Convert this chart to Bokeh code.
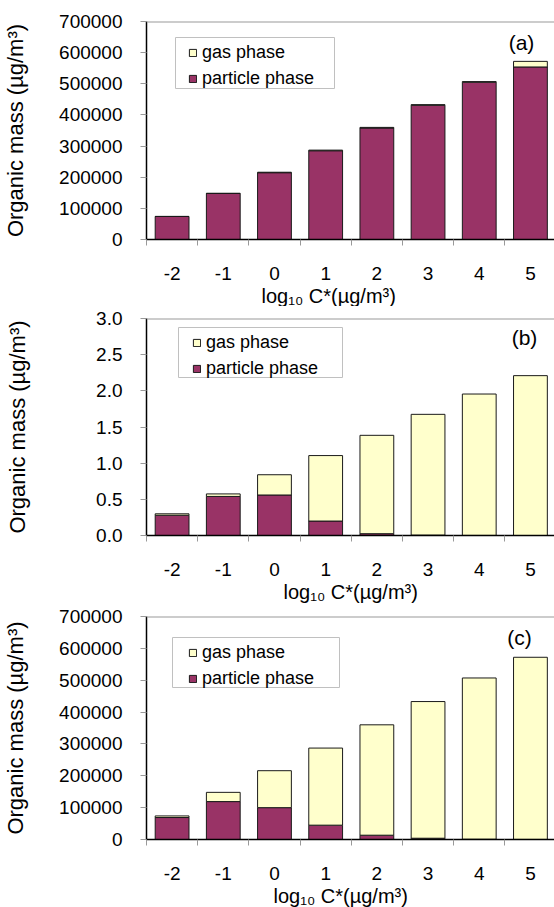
from bokeh.plotting import figure
from bokeh.models import (ColumnDataSource, FixedTicker, NumeralTickFormatter, Legend, LegendItem,
                          Span, Label, BoxAnnotation, Range1d, Title)
from bokeh.layouts import column
from bokeh.embed import file_html
from bokeh.resources import INLINE

# ---------------- data ----------------
log_cstar = [-2, -1, 0, 1, 2, 3, 4, 5]
tick_labels = ["-2", "-1", "0", "1", "2", "3", "4", "5"]

particle_a = [74000, 148000, 214500, 285000, 358000, 431000, 505000, 554000]
gas_a = [0, 0, 1500, 2000, 2000, 2000, 2000, 18000]

particle_b = [0.28, 0.54, 0.56, 0.20, 0.025, 0.005, 0.001, 0.0]
gas_b = [0.02, 0.035, 0.28, 0.905, 1.36, 1.67, 1.955, 2.21]

particle_c = [69000, 119000, 100000, 45000, 13500, 4000, 800, 200]
gas_c = [5000, 29000, 116000, 242000, 346500, 429000, 506200, 571800]

ticks_big = [0, 100000, 200000, 300000, 400000, 500000, 600000, 700000]
ticks_small = [0.0, 0.5, 1.0, 1.5, 2.0, 2.5, 3.0]

legend_labels = ["gas phase", "particle phase"]
panel_tags = ["(a)", "(b)", "(c)"]
y_title = "Organic mass (\u00b5g/m\u00b3)"
x_title = "log\u2081\u2080 C*(\u00b5g/m\u00b3)"

PARTICLE = "#993366"
GAS = "#FFFFCC"
FONT = "Liberation Sans"
W = 554


def make_panel(particle, gas, yticks, yfmt, tag, height, b_left, b_top, b_bottom,
               label_standoff, leg_pos, box, tag_pos, xtitle_offset):
    src = ColumnDataSource(dict(x=log_cstar, particle=particle, gas=gas))
    p = figure(width=W, height=height, output_backend="svg", toolbar_location=None,
               min_border_left=b_left, min_border_right=0, min_border_top=b_top,
               min_border_bottom=b_bottom,
               x_range=Range1d(-2.5, 5.47), y_range=Range1d(yticks[0], yticks[-1]))
    p.outline_line_color = None
    p.xgrid.visible = False
    p.ygrid.visible = False
    p.background_fill_color = "white"
    p.border_fill_color = "white"

    rs = p.vbar_stack(["particle", "gas"], x="x", width=0.66, source=src,
                      fill_color=[PARTICLE, GAS], line_color="#1a1a1a", line_width=1)

    # top border line of the plot area
    p.add_layout(Span(location=yticks[-1], dimension="width", line_color="#999999", line_width=2))

    # y axis
    ya = p.yaxis[0]
    ya.ticker = FixedTicker(ticks=yticks, minor_ticks=[])
    ya.formatter = NumeralTickFormatter(format=yfmt)
    ya.axis_line_color = "black"
    ya.axis_line_width = 1.5
    ya.major_tick_line_color = "#999999"
    ya.major_tick_out = 6
    ya.major_tick_in = 0
    ya.minor_tick_line_color = None
    ya.major_label_standoff = 18
    ya.major_label_text_font = FONT
    ya.major_label_text_font_size = "19px"
    ya.major_label_text_color = "black"
    ya.axis_label = y_title
    ya.axis_label_text_font = FONT
    ya.axis_label_text_font_size = "22px"
    ya.axis_label_text_font_style = "normal"
    ya.axis_label_text_color = "black"
    ya.axis_label_standoff = label_standoff

    # x axis: labels at categories, tick marks at category boundaries
    xa = p.xaxis[0]
    bounds = [c - 0.5 for c in log_cstar] + [log_cstar[-1] + 0.5]
    xa.ticker = FixedTicker(ticks=log_cstar, minor_ticks=bounds)
    xa.major_label_overrides = {c: t for c, t in zip(log_cstar, tick_labels)}
    xa.axis_line_color = "black"
    xa.axis_line_width = 1.5
    xa.major_tick_line_color = None
    xa.major_tick_out = 0
    xa.major_tick_in = 0
    xa.minor_tick_line_color = "#999999"
    xa.minor_tick_out = 6
    xa.minor_tick_in = 0
    xa.major_label_standoff = 21
    xa.major_label_text_font = FONT
    xa.major_label_text_font_size = "19px"
    xa.major_label_text_color = "black"

    # x axis title below the tick labels
    p.add_layout(Title(text=x_title, align="left", offset=xtitle_offset, standoff=0,
                       text_font=FONT, text_font_size="20px", text_font_style="normal",
                       text_color="black"), "below")

    # legend frame
    l, r, t, b = box
    p.add_layout(BoxAnnotation(left=l, right=r, top=t, bottom=b,
                               left_units="screen", right_units="screen",
                               top_units="screen", bottom_units="screen",
                               fill_color="white", fill_alpha=1.0,
                               line_color="#c0c0c0", line_width=1, line_alpha=1.0,
                               level="annotation"))
    legend = Legend(items=[LegendItem(label=legend_labels[0], renderers=[rs[1]]),
                           LegendItem(label=legend_labels[1], renderers=[rs[0]])],
                    location=leg_pos, padding=4, margin=0, spacing=5,
                    glyph_width=9, glyph_height=9, label_height=20, label_standoff=5,
                    label_text_font=FONT, label_text_font_size="18px",
                    label_text_color="black",
                    border_line_color=None, background_fill_alpha=0)
    p.add_layout(legend)

    # panel tag
    p.add_layout(Label(x=tag_pos[0], y=tag_pos[1], x_units="screen", y_units="screen",
                       text=tag, text_font=FONT, text_font_size="21px", text_color="black",
                       text_align="center", text_baseline="middle"))
    return p


pa = make_panel(particle_a, gas_a, ticks_big, "0", panel_tags[0], 306, 145, 21, 67,
                28, (42, 150), (29, 188, 202, 151), (375, 197), 115)
pb = make_panel(particle_b, gas_b, ticks_small, "0.0", panel_tags[1], 298, 141, 12, 69,
                63, (46, 156), (32, 196, 208, 158), (378, 198), 137)
pc = make_panel(particle_c, gas_c, ticks_big, "0", panel_tags[2], 303, 145, 12, 68,
                28, (42, 150), (26, 193, 202, 152), (373, 202), 127)

layout = column(pa, pb, pc, spacing=0)
open("out.html", "w").write(file_html(layout, INLINE))
